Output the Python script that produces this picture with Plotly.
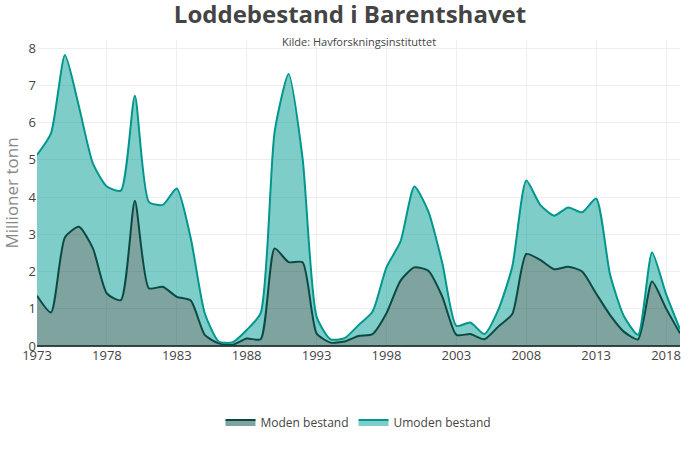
import plotly.graph_objects as go

years = list(range(1973, 2020))
moden = [1.35, 0.90, 2.92, 3.20, 2.62, 1.41, 1.23, 3.90, 1.55, 1.59, 1.32, 1.22, 0.30, 0.07, 0.03,
         0.20, 0.18, 2.62, 2.25, 2.25, 0.34, 0.09, 0.12, 0.27, 0.32, 0.88, 1.75, 2.11, 2.02, 1.32, 0.30,
         0.32, 0.18, 0.52, 0.86, 2.47, 2.31, 2.06, 2.13, 2.00, 1.41, 0.83, 0.38, 0.18, 1.73, 1.01, 0.34]
totalt = [5.13, 5.71, 7.81, 6.43, 4.90, 4.28, 4.17, 6.72, 3.87, 3.79, 4.23, 2.89, 0.88, 0.12, 0.10,
          0.43, 0.88, 5.75, 7.30, 5.04, 0.79, 0.18, 0.21, 0.56, 0.92, 2.11, 2.80, 4.28, 3.61, 2.22, 0.54,
          0.63, 0.32, 0.97, 2.13, 4.44, 3.79, 3.50, 3.72, 3.59, 3.96, 1.91, 0.79, 0.30, 2.51, 1.40, 0.45]

fig = go.Figure()
fig.add_trace(go.Scatter(
    x=years, y=moden, name="Moden bestand", mode="lines",
    line=dict(color="#0b4a44", width=2, shape="spline", smoothing=0.6),
    fill="tozeroy", fillcolor="rgba(0,71,63,0.5)"))
fig.add_trace(go.Scatter(
    x=years, y=totalt, name="Umoden bestand", mode="lines",
    line=dict(color="#00968c", width=2, shape="spline", smoothing=0.6),
    fill="tonexty", fillcolor="rgba(0,155,147,0.5)"))

fig.update_layout(
    width=700, height=450,
    paper_bgcolor="white", plot_bgcolor="white",
    margin=dict(l=37, r=20, t=40, b=104),
    font=dict(family="Open Sans, sans-serif", color="#444444", size=12),
    title=dict(text="<b>Loddebestand i Barentshavet</b>", x=0.5, xanchor="center",
               y=0.967, yanchor="middle",
               font=dict(family="Open Sans, sans-serif", size=24, color="#444444")),
    annotations=[dict(text="Kilde: Havforskningsinstituttet", x=0.5, y=0.9935,
                      xref="paper", yref="paper", xanchor="center", yanchor="middle",
                      showarrow=False, font=dict(size=11, color="#444444"))],
    xaxis=dict(range=[1973, 2019], tick0=1973, dtick=5, showgrid=True,
               gridcolor="#eeeeee", zeroline=False, showline=False,
               tickfont=dict(size=13), automargin=False),
    yaxis=dict(range=[0, 8.215], dtick=1, showgrid=True, gridcolor="#eeeeee",
               zeroline=True, zerolinecolor="#444444", zerolinewidth=2,
               tickfont=dict(size=13), automargin=False,
               title=dict(text="Millioner tonn", font=dict(size=17, color="#888888"))),
    legend=dict(orientation="h", x=0.5, xanchor="center", y=-0.248, yanchor="middle",
                traceorder="normal", font=dict(size=12)),
    showlegend=True,
)

fig.write_html("out.html", config={"displayModeBar": False},
               post_script="document.body.style.margin='0';")
